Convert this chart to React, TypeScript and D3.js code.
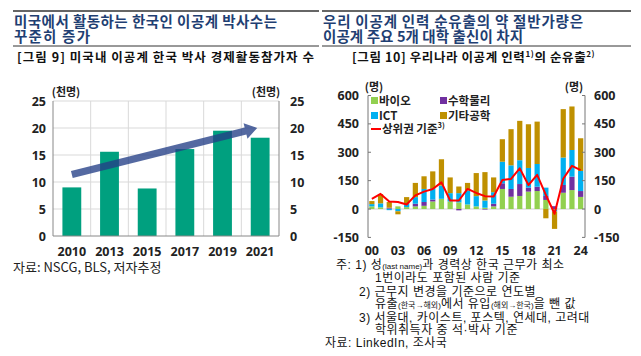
import React from 'react';
import * as d3 from 'd3';

// ---------- Data ----------
const leftYears = ['2010', '2013', '2015', '2017', '2019', '2021'];
const leftValues = [9.0, 15.6, 8.8, 16.1, 19.5, 18.2];
const leftTicks = [0, 5, 10, 15, 20, 25];
const arrowFromValue = 11.4;
const arrowToValue = 20.0;

const rightYears = [
  '2000', '2001', '2002', '2003', '2004', '2005', '2006', '2007', '2008', '2009',
  '2010', '2011', '2012', '2013', '2014', '2015', '2016', '2017', '2018', '2019',
  '2020', '2021', '2022', '2023', '2024',
];
const bio = [14, 9, 2, 14, 10, 14, 17, 40, 54, 40, 35, 24, 14, 7, 14, 106, 65, 69, 92, 95, 48, -5, 86, 100, 64];
const mathPhys = [0, 0, 5, 0, 0, 14, 20, 10, 0, 0, -7, 0, 0, -3, 14, 30, 41, 63, 21, 23, 21, 15, 41, 71, 31];
const ict = [12, 21, -6, -12, 18, 35, 69, 60, 70, 44, 49, 74, 54, 38, 61, 114, 125, 126, 104, 120, 44, -8, 145, 141, 106];
const otherEng = [16, 49, 30, -16, 35, 75, 67, 89, 139, 83, 35, 40, 122, 150, 78, 119, 191, 208, 231, 224, -49, -92, 256, 230, 173];
const topTier = [54, 80, 40, 37, 24, 72, 92, 106, 141, 45, 45, 106, 85, 68, 66, 153, 159, 215, 127, 181, 75, -25, 160, 228, 206];
const rightTicks = [-150, 0, 150, 300, 450, 600];
const rightXLabels = ['2000', '2003', '2006', '2009', '2012', '2015', '2018', '2021', '2024'];

const seriesKeys = ['bio', 'mathPhys', 'ict', 'otherEng'];
const seriesColors: Record<string, string> = {
  bio: '#92D050',
  mathPhys: '#7030A0',
  ict: '#00B0F0',
  otherEng: '#BF9000',
};

const KR = "'Noto Sans CJK KR', 'Noto Sans', sans-serif";
const NUM = "'Noto Sans', 'Noto Sans CJK KR', sans-serif";
const NOTE = "'Liberation Sans', 'Noto Sans CJK KR', sans-serif";
const TITLE_COLOR = '#1F3F73';

export default function App() {
  // ---------- Left chart ----------
  const lx = d3.scaleBand<string>().domain(leftYears).range([53, 279]).paddingInner(0.5).paddingOuter(0.25);
  const ly = d3.scaleLinear().domain([0, 25]).range([236, 101]);
  const step = lx.step();
  const boundaries = leftYears.slice(1).map((y) => (lx(y) as number) - step * 0.25);

  const p0: [number, number] = [(lx('2010') as number) + lx.bandwidth() / 2, ly(arrowFromValue)];
  const p1: [number, number] = [(lx('2021') as number) + lx.bandwidth() / 2 - 3, ly(arrowToValue)];
  const dx = p1[0] - p0[0];
  const dy = p1[1] - p0[1];
  const len = Math.hypot(dx, dy);
  const ux = dx / len, uy = dy / len;
  const nx = -uy, ny = ux;
  const hw = 3.6, headLen = 12, headW = 8;
  const hb: [number, number] = [p1[0] - ux * headLen, p1[1] - uy * headLen];
  const arrowPts: [number, number][] = [
    [p0[0] + nx * hw, p0[1] + ny * hw],
    [hb[0] + nx * hw, hb[1] + ny * hw],
    [hb[0] + nx * headW, hb[1] + ny * headW],
    p1,
    [hb[0] - nx * headW, hb[1] - ny * headW],
    [hb[0] - nx * hw, hb[1] - ny * hw],
    [p0[0] - nx * hw, p0[1] - ny * hw],
  ];
  const arrowPath = d3.line()(arrowPts) + 'Z';

  // ---------- Right chart ----------
  const rx = d3.scaleBand<string>().domain(rightYears).range([367.5, 585]).paddingInner(0.4).paddingOuter(0.2);
  const ry = d3.scaleLinear().domain([-150, 600]).range([237.4, 95.5]);
  const table = rightYears.map((y, i) => ({
    year: y,
    bio: bio[i],
    mathPhys: mathPhys[i],
    ict: ict[i],
    otherEng: otherEng[i],
  }));
  const stacked = d3.stack<any>().keys(seriesKeys).offset(d3.stackOffsetDiverging)(table);
  const cx = (y: string) => (rx(y) as number) + rx.bandwidth() / 2;
  const linePath = d3
    .line<number>()
    .x((_, i) => cx(rightYears[i]))
    .y((d) => ry(d))(topTier) as string;

  const legendItems = [
    { key: 'bio', label: '바이오', x: 371, y: 101 },
    { key: 'mathPhys', label: '수학물리', x: 440, y: 101 },
    { key: 'ict', label: 'ICT', x: 371, y: 116 },
    { key: 'otherEng', label: '기타공학', x: 440, y: 116 },
  ];

  return (
    <svg
      width={641}
      height={356}
      style={{ position: 'absolute', left: 0, top: 0, background: '#fff' }}
      xmlns="http://www.w3.org/2000/svg"
    >
      <rect x={0} y={0} width={641} height={356} fill="#fff" />
      {/* Header lines */}
      <line x1={13} x2={319} y1={11} y2={11} stroke="#333" strokeWidth={1.5} />
      <line x1={322} x2={631} y1={11} y2={11} stroke="#333" strokeWidth={1.5} />
      <line x1={13} x2={319} y1={46} y2={46} stroke="#333" strokeWidth={1} />
      <line x1={322} x2={631} y1={46} y2={46} stroke="#333" strokeWidth={1} />

      {/* Titles */}
      <g fontFamily={KR} fontWeight="bold" fill={TITLE_COLOR} fontSize={14.5}>
        <text x={14} y={26.5} textLength={263} lengthAdjust="spacing">미국에서 활동하는 한국인 이공계 박사수는</text>
        <text x={14} y={41.5} letterSpacing={1.2}>꾸준히 증가</text>
        <text x={323} y={26.5} textLength={260} lengthAdjust="spacing">우리 이공계 인력 순유출의 약 절반가량은</text>
        <text x={323} y={41.5} textLength={200} lengthAdjust="spacing">이공계 주요 5개 대학 출신이 차지</text>
      </g>
      <g fontFamily={KR} fontWeight="bold" fill="#111" fontSize={12.5}>
        <text x={17} y={62} textLength={297} lengthAdjust="spacing">[그림 9] 미국내 이공계 한국 박사 경제활동참가자 수</text>
        <text x={352} y={62} letterSpacing={0.6}>
          [그림 10] 우리나라 이공계 인력
          <tspan fontSize={8} dy={-5}>1)</tspan>
          <tspan dy={5}>의 순유출</tspan>
          <tspan fontSize={8} dy={-5}>2)</tspan>
        </text>
      </g>

      {/* ---------- Left chart ---------- */}
      <g>
        {leftTicks.slice(1).map((t) => (
          <line key={'lg' + t} x1={53} x2={279} y1={ly(t)} y2={ly(t)} stroke="#d9d9d9" strokeWidth={1} />
        ))}
        {boundaries.map((b, i) => (
          <line key={'lv' + i} x1={b} x2={b} y1={ly(25)} y2={ly(0)} stroke="#d9d9d9" strokeWidth={1} />
        ))}
        {leftYears.map((y, i) => (
          <rect
            key={'lb' + y}
            x={lx(y)}
            y={ly(leftValues[i])}
            width={lx.bandwidth()}
            height={ly(0) - ly(leftValues[i])}
            fill="#00A07F"
          />
        ))}
        <line x1={53} x2={53} y1={ly(25)} y2={ly(0)} stroke="#888" strokeWidth={1} />
        <line x1={279} x2={279} y1={ly(25)} y2={ly(0)} stroke="#888" strokeWidth={1} />
        <line x1={53} x2={279} y1={ly(0)} y2={ly(0)} stroke="#888" strokeWidth={1} />
        <path d={arrowPath} fill="#243F86" fillOpacity={0.78} />
        <g fontFamily={NUM} fontWeight="bold" fontSize={12.5} fill="#222">
          {leftTicks.map((t) => (
            <text key={'ll' + t} x={46} y={ly(t) + 4.5} textAnchor="end">
              {t}
            </text>
          ))}
          {leftTicks.map((t) => (
            <text key={'lr' + t} x={290} y={ly(t) + 4.5} textAnchor="start">
              {t}
            </text>
          ))}
          {leftYears.map((y) => (
            <text key={'lx' + y} x={(lx(y) as number) + lx.bandwidth() / 2} y={255.5} textAnchor="middle">
              {y}
            </text>
          ))}
        </g>
        <g fontFamily={KR} fontWeight="bold" fontSize={11} fill="#222">
          <text x={66} y={96} textAnchor="middle">(천명)</text>
          <text x={266} y={96} textAnchor="middle">(천명)</text>
        </g>
        <text x={13} y={272} fontFamily={KR} fontSize={13} fill="#222">
          자료: NSCG, BLS, 저자추정
        </text>
      </g>

      {/* ---------- Right chart ---------- */}
      <g>
        <line x1={368} x2={585} y1={ry(0)} y2={ry(0)} stroke="#d0d0d0" strokeWidth={1} />
        {stacked.map((s) => (
          <g key={s.key} fill={seriesColors[s.key]}>
            {s.map((d, i) => {
              const y0 = ry(d[0]);
              const y1 = ry(d[1]);
              return (
                <rect
                  key={i}
                  x={rx(rightYears[i])}
                  y={Math.min(y0, y1)}
                  width={rx.bandwidth()}
                  height={Math.abs(y1 - y0)}
                />
              );
            })}
          </g>
        ))}
        <path d={linePath} fill="none" stroke="#FF0000" strokeWidth={2} strokeLinejoin="round" />
        <line x1={368} x2={368} y1={ry(600)} y2={ry(-150)} stroke="#777" strokeWidth={1} />
        <line x1={585} x2={585} y1={ry(600)} y2={ry(-150)} stroke="#777" strokeWidth={1} />
        {rightTicks.map((t) => (
          <g key={'rt' + t}>
            <line x1={368} x2={371} y1={ry(t)} y2={ry(t)} stroke="#777" />
            <line x1={582} x2={585} y1={ry(t)} y2={ry(t)} stroke="#777" />
          </g>
        ))}
        <g fontFamily={NUM} fontWeight="bold" fontSize={12.5} fill="#222">
          {rightTicks.map((t) => (
            <text key={'rl' + t} x={359} y={ry(t) + 4.5} textAnchor="end">
              {t}
            </text>
          ))}
          {rightTicks.map((t) => (
            <text key={'rr' + t} x={594} y={ry(t) + 4.5} textAnchor="start">
              {t}
            </text>
          ))}
          {rightXLabels.map((y) => (
            <text key={'rx' + y} x={cx(y)} y={255} textAnchor="middle">
              {y.slice(2)}
            </text>
          ))}
        </g>
        <g fontFamily={KR} fontWeight="bold" fontSize={11} fill="#222">
          <text x={374} y={91} textAnchor="middle">(명)</text>
          <text x={574} y={91} textAnchor="middle">(명)</text>
        </g>
        {/* Legend */}
        <g fontFamily={KR} fontWeight="bold" fontSize={11.5} fill="#222">
          {legendItems.map((it) => (
            <g key={it.key}>
              <rect x={it.x} y={it.y - 4} width={7} height={7} fill={seriesColors[it.key]} />
              <text x={it.x + 8} y={it.y + 4}>{it.label}</text>
            </g>
          ))}
          <line x1={371} x2={381} y1={129} y2={129} stroke="#FF0000" strokeWidth={2} />
          <text x={382} y={133}>
            상위권 기준<tspan fontSize={7.5} dy={-5}>3)</tspan>
          </text>
        </g>
        {/* Footnotes */}
        <g fontFamily={NOTE} fontSize={12} fill="#111" letterSpacing={0.5}>
          <text x={336} y={269}>
            주: 1) 성<tspan fontSize={8} letterSpacing={0}>(last name)</tspan>과 경력상 한국 근무가 최소
          </text>
          <text x={375} y={281.5}>1번이라도 포함된 사람 기준</text>
          <text x={359} y={295.5}>2) 근무지 변경을 기준으로 연도별</text>
          <text x={375} y={308}>
            유출<tspan fontSize={8} letterSpacing={0}>(한국→해외)</tspan>에서 유입<tspan fontSize={8} letterSpacing={0}>(해외→한국)</tspan>을 뺀 값
          </text>
          <text x={359} y={321.5}>3) 서울대, 카이스트, 포스텍, 연세대, 고려대</text>
          <text x={375} y={334}>학위취득자 중 석·박사 기준</text>
          <text x={325} y={347}>자료: LinkedIn, 조사국</text>
        </g>
      </g>
    </svg>
  );
}
